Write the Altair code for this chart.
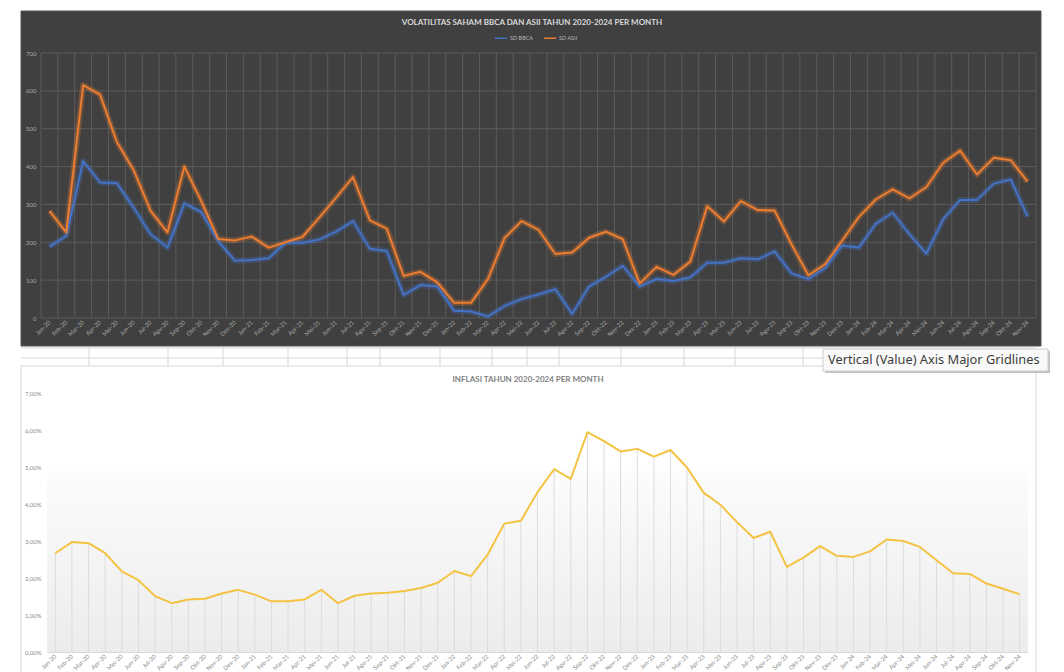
import altair as alt
import pandas as pd

# ---------------- data ----------------
month_abbr = ["Jan", "Feb", "Mar", "Apr", "Mei", "Jun", "Jul", "Agu", "Sep", "Okt", "Nov", "Des"]
years = ["20", "21", "22", "23", "24"]
months = [f"{m}-{y}" for y in years for m in month_abbr][:59]

sd_bbca = [188, 217, 414, 358, 356, 291, 221, 186, 303, 280,
           204, 151, 153, 158, 199, 199, 207, 228, 256, 183,
           177, 61, 87, 83, 19, 17, 4, 32, 50, 62,
           76, 11, 83, 109, 138, 83, 103, 98, 107, 146,
           146, 158, 155, 176, 118, 103, 132, 191, 186, 249,
           278, 221, 170, 261, 312, 312, 355, 366, 268]

sd_asii = [283, 226, 615, 590, 465, 390, 283, 226, 400, 309,
           209, 205, 215, 186, 200, 214, 265, 318, 372, 258,
           236, 111, 122, 94, 40, 40, 103, 212, 256, 233,
           169, 173, 212, 228, 208, 91, 135, 114, 149, 295,
           255, 309, 285, 284, 195, 113, 142, 204, 267, 313,
           340, 316, 346, 410, 442, 379, 423, 417, 360]

inflasi = [2.67, 2.97, 2.94, 2.67, 2.18, 1.94, 1.51, 1.32, 1.42, 1.44,
           1.58, 1.68, 1.55, 1.37, 1.37, 1.42, 1.68, 1.32, 1.52, 1.58,
           1.60, 1.65, 1.73, 1.87, 2.19, 2.05, 2.63, 3.47, 3.55, 4.32,
           4.94, 4.68, 5.94, 5.70, 5.42, 5.49, 5.28, 5.46, 4.98, 4.30,
           3.98, 3.51, 3.08, 3.25, 2.30, 2.55, 2.86, 2.60, 2.57, 2.72,
           3.04, 3.00, 2.84, 2.48, 2.13, 2.11, 1.85, 1.71, 1.56]

series_names = ["SD BBCA", "SD ASII"]
series_colors = ["#4472C4", "#ED7D31"]
vol_ticks = [0, 100, 200, 300, 400, 500, 600, 700]
infl_ticks = [0, 1, 2, 3, 4, 5, 6, 7]

top_title = "VOLATILITAS SAHAM BBCA DAN ASII TAHUN 2020-2024 PER MONTH"
bottom_title = "INFLASI TAHUN 2020-2024 PER MONTH"
tooltip_text = "Vertical (Value) Axis Major Gridlines"

# spreadsheet cell borders visible in the gap between the two charts (decoration)
sheet_cols = [48, 127, 182, 247, 306, 339, 399, 451, 486, 518, 580, 643, 694, 762]
sheet_rows = [-45, -35]

top_df = pd.DataFrame({
    "month": months * 2,
    "series": [series_names[0]] * len(months) + [series_names[1]] * len(months),
    "value": sd_bbca + sd_asii,
})
bot_df = pd.DataFrame({"month": months, "inflasi": inflasi})
one = pd.DataFrame({"k": [0]})
vgrid_df = pd.DataFrame({"month": months})
hgrid_df = pd.DataFrame({"tick": vol_ticks})
cols_df = pd.DataFrame({"cx": sheet_cols})
rows_df = pd.DataFrame({"ry": sheet_rows})

FONT = "Lato"
W1, H1 = 995, 265
SHIFT = 6            # bottom plot starts 6px right of the top one
W2, H2 = 987, 259

# ---------------- top chart ----------------
x_scale_top = alt.Scale(type="band", domain=months, paddingInner=0, paddingOuter=0)
x_axis_top = alt.Axis(title=None, labelAngle=-45, labelAlign="right", labelBaseline="middle",
                      labelFontSize=6, labelFont=FONT, labelColor="#a8a8a8", labelPadding=3,
                      ticks=False, domain=False, grid=False, labelOverlap=False, zindex=1)
y_scale_top = alt.Scale(domain=[0, 700], nice=False)
y_axis_top = alt.Axis(title=None, values=vol_ticks, labelFontSize=6, labelFont=FONT,
                      labelColor="#a8a8a8", labelPadding=5, ticks=False, domain=False,
                      grid=False, zindex=1)

bg_top = alt.Chart(one).mark_rect(fill="#404040", stroke="#555555", strokeWidth=1).encode(
    x=alt.value(-20), x2=alt.value(W1 + 5), y=alt.value(-42), y2=alt.value(H1 + 28))

title_top = alt.Chart(one).mark_text(text=top_title, align="center", baseline="middle",
                                     font=FONT, fontSize=8, fontWeight="bold",
                                     color="#d9d9d9").encode(
    x=alt.value(491), y=alt.value(-30))

hgrid = alt.Chart(hgrid_df).mark_rule(color="#5b5b5b", strokeWidth=1).encode(
    y=alt.Y("tick:Q", scale=y_scale_top, axis=y_axis_top))
vgrid = alt.Chart(vgrid_df).mark_rule(color="#5b5b5b", strokeWidth=1).encode(
    x=alt.X("month:N", sort=months, scale=x_scale_top, axis=x_axis_top, bandPosition=0))
vgrid_end = alt.Chart(one).mark_rule(color="#5b5b5b", strokeWidth=1).encode(
    x=alt.value(W1), y=alt.value(0), y2=alt.value(H1))

legend_top = alt.Legend(title=None, orient="none", legendX=453, legendY=-22,
                        direction="horizontal", symbolType="stroke",
                        symbolSize=150, symbolStrokeWidth=1.5, symbolOpacity=1,
                        labelFontSize=5.5, labelFont=FONT, labelColor="#b8b8b8",
                        columnPadding=6, labelOffset=2)
color_enc = alt.Color("series:N", scale=alt.Scale(domain=series_names, range=series_colors),
                      legend=legend_top)

x_line_top = alt.X("month:N", sort=months, scale=x_scale_top, axis=x_axis_top, bandPosition=0.5)
y_line_top = alt.Y("value:Q", scale=y_scale_top, axis=y_axis_top)

lines = alt.Chart(top_df).mark_line(strokeWidth=2, strokeJoin="round").encode(
    x=x_line_top, y=y_line_top, color=color_enc)
glow = alt.Chart(top_df).mark_line(strokeWidth=6, opacity=0.28, strokeJoin="round").encode(
    x=x_line_top, y=y_line_top, color=color_enc)

top = alt.layer(bg_top, title_top, hgrid, vgrid, vgrid_end, glow, lines).properties(
    width=W1, height=H1)

# ---------------- bottom chart ----------------
x_scale_bot = alt.Scale(type="band", domain=months, paddingInner=0, paddingOuter=0,
                        range=[SHIFT, W2])
x_axis_bot = alt.Axis(title=None, labelAngle=-45, labelAlign="right", labelBaseline="middle",
                      labelFontSize=6, labelFont=FONT, labelColor="#8a8a8a", labelPadding=3,
                      ticks=False, domain=True, domainColor="#d9d9d9", grid=False,
                      labelOverlap=False, zindex=1)
y_scale_bot = alt.Scale(domain=[0, 7], nice=False)
y_axis_bot = alt.Axis(title=None, values=infl_ticks, labelFontSize=6, labelFont=FONT,
                      labelColor="#8a8a8a", labelPadding=6, offset=-SHIFT, ticks=False,
                      domain=False, grid=False, zindex=1,
                      labelExpr="replace(format(datum.value, '.2f'), '.', ',') + '%'")

sheet_v = alt.Chart(cols_df).mark_rule(color="#d6d6d6", strokeWidth=1).encode(
    x=alt.X("cx:Q", scale=None), y=alt.value(-45), y2=alt.value(-27))
sheet_h = alt.Chart(rows_df).mark_rule(color="#d6d6d6", strokeWidth=1).encode(
    y=alt.Y("ry:Q", scale=None), x=alt.value(-20), x2=alt.value(W2 + 8))

panel = alt.Chart(one).mark_rect(fill="#ffffff", stroke="#d9d9d9", strokeWidth=1).encode(
    x=alt.value(-20), x2=alt.value(W2 + 8), y=alt.value(-27), y2=alt.value(H2 + 40))

title_bot = alt.Chart(one).mark_text(text=bottom_title, align="center", baseline="middle",
                                     font=FONT, fontSize=8, fontWeight="bold",
                                     color="#808080").encode(
    x=alt.value(487), y=alt.value(-13))

grad = alt.Chart(one).mark_rect(
    fill=alt.Gradient(gradient="linear",
                      stops=[alt.GradientStop(color="#fcfcfc", offset=0),
                             alt.GradientStop(color="#ececec", offset=1)],
                      x1=0, x2=0, y1=0, y2=1)
).encode(x=alt.value(SHIFT), x2=alt.value(W2), y=alt.value(78), y2=alt.value(H2))

x_line_bot = alt.X("month:N", sort=months, scale=x_scale_bot, axis=x_axis_bot, bandPosition=0.5)
y_line_bot = alt.Y("inflasi:Q", scale=y_scale_bot, axis=y_axis_bot)

drops = alt.Chart(bot_df).mark_rule(color="#dcdcdc", strokeWidth=1).encode(
    x=x_line_bot, y=y_line_bot, y2=alt.datum(0))
infl_line = alt.Chart(bot_df).mark_line(color="#F5C342", strokeWidth=2, strokeJoin="round").encode(
    x=x_line_bot, y=y_line_bot)

tip_shadow = alt.Chart(one).mark_rect(fill="#9a9a9a", opacity=0.6).encode(
    x=alt.value(784), x2=alt.value(1009), y=alt.value(-42), y2=alt.value(-20))
tip_box = alt.Chart(one).mark_rect(fill="#f9f9f9", stroke="#cfcfcf", strokeWidth=1).encode(
    x=alt.value(782), x2=alt.value(1007), y=alt.value(-44), y2=alt.value(-22))
tip_text = alt.Chart(one).mark_text(text=tooltip_text, align="left", baseline="middle",
                                    font="Noto Sans", fontSize=12.8, color="#3c3c3c").encode(
    x=alt.value(787), y=alt.value(-33))

bottom = alt.layer(sheet_v, sheet_h, panel, title_bot, grad, drops, infl_line,
                   tip_shadow, tip_box, tip_text).properties(width=W2, height=H2)

chart = alt.vconcat(top, bottom, spacing=0).properties(
    padding={"left": 12, "top": 2, "right": 0, "bottom": 0},
    background="#ffffff",
).configure_view(strokeWidth=0)

chart.save("out.html", embed_options={"renderer": "svg", "actions": False})
